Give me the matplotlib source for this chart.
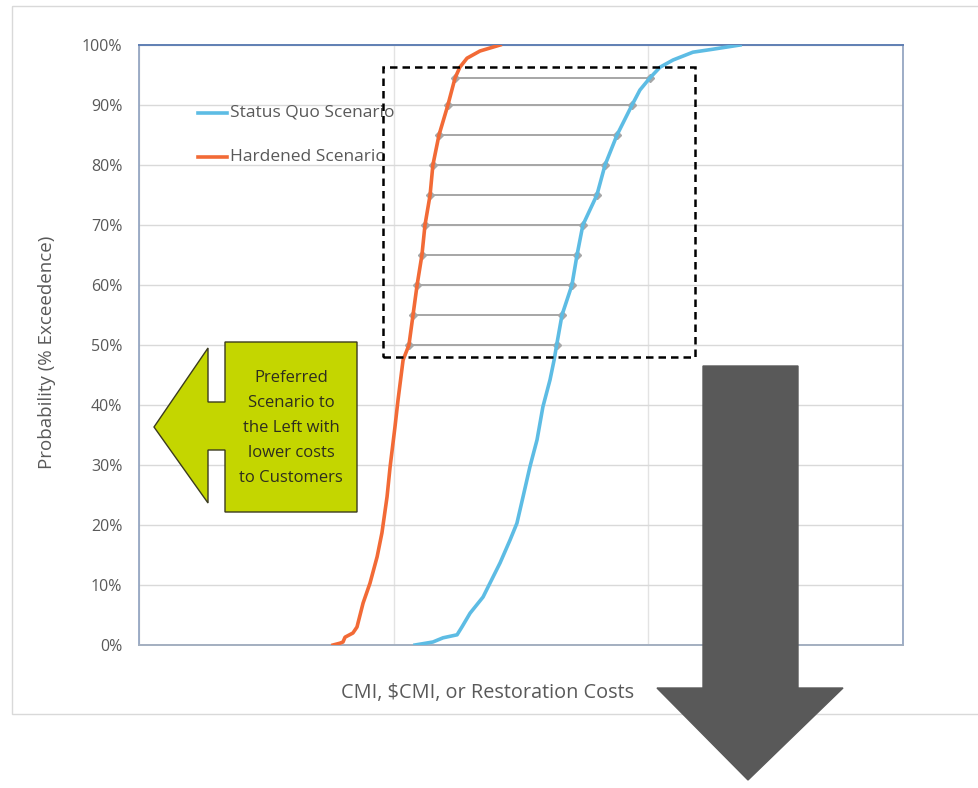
import matplotlib
matplotlib.use("Agg")
import matplotlib.pyplot as plt
from matplotlib.patches import Polygon, Rectangle
from matplotlib.ticker import FuncFormatter

# Exceedance curves: cost (relative units) vs. probability (%)
status_quo_cost = [1.084, 1.154, 1.194, 1.249, 1.268, 1.300, 1.351, 1.378, 1.418, 1.457,
                   1.484, 1.508, 1.535, 1.563, 1.586, 1.614, 1.630, 1.640, 1.661, 1.700,
                   1.720, 1.743, 1.798, 1.830, 1.877, 1.936, 1.967, 2.006, 2.046, 2.097,
                   2.175, 2.254, 2.360]
status_quo_prob = [0.0, 0.5, 1.2, 1.7, 3.0, 5.3, 8.0, 10.3, 13.7, 17.5,
                   20.3, 24.7, 29.7, 34.2, 39.7, 44.2, 47.5, 50.0, 55.0, 60.0,
                   65.0, 70.0, 75.0, 80.0, 85.0, 90.0, 92.5, 94.5, 96.3, 97.5,
                   98.8, 99.3, 100.0]

hardened_cost = [0.762, 0.789, 0.801, 0.809, 0.840, 0.856, 0.880, 0.907, 0.935, 0.954,
                 0.974, 0.986, 1.005, 1.017, 1.037, 1.060, 1.076, 1.092, 1.111, 1.123,
                 1.143, 1.154, 1.178, 1.213, 1.241, 1.260, 1.288, 1.339, 1.418]
hardened_prob = [0.0, 0.3, 0.5, 1.3, 2.0, 3.0, 7.0, 10.3, 14.7, 18.7,
                 24.7, 29.7, 36.3, 40.8, 47.5, 50.0, 55.0, 60.0, 65.0, 70.0,
                 75.0, 80.0, 85.0, 90.0, 94.5, 96.3, 97.8, 99.0, 100.0]

# Cost gap between scenarios at selected probability levels
gap_levels = [50, 55, 60, 65, 70, 75, 80, 85, 90, 94.5]
gap_hardened = [1.060, 1.076, 1.092, 1.111, 1.123, 1.143, 1.154, 1.178, 1.213, 1.241]
gap_status_quo = [1.640, 1.661, 1.700, 1.720, 1.743, 1.798, 1.830, 1.877, 1.936, 2.006]

y_ticks = [0, 10, 20, 30, 40, 50, 60, 70, 80, 90, 100]
series_names = ["Status Quo Scenario", "Hardened Scenario"]
callout_lines = ["Preferred", "Scenario to", "the Left with", "lower costs", "to Customers"]

BLUE = "#5DBCE4"
ORANGE = "#F26A36"
TXT = "#595959"
FONT = ["Open Sans", "DejaVu Sans"]

W, H = 979, 788
fig = plt.figure(figsize=(W / 100, H / 100), dpi=100)
fig.patch.set_facecolor("white")

ax = fig.add_axes([139 / W, 1 - 645 / H, (903 - 139) / W, (645 - 45) / H])
ax.set_xlim(0, 3)
ax.set_ylim(0, 100)
ax.set_xticks([0, 1, 2, 3])
ax.set_yticks(y_ticks)
ax.yaxis.set_major_formatter(FuncFormatter(lambda v, _: f"{v:.0f}%"))
ax.tick_params(axis="x", length=0, labelbottom=False)
ax.tick_params(axis="y", length=0, pad=12, labelcolor=TXT, labelsize=11.5)
for lab in ax.get_yticklabels():
    lab.set_family(FONT)
ax.grid(axis="y", color="#D9D9D9", linewidth=1.0)
ax.grid(axis="x", color="#E3E3E3", linewidth=1.0)
ax.set_axisbelow(True)
for side in ["left", "right"]:
    ax.spines[side].set_color("#8DA0BE")
    ax.spines[side].set_linewidth(1.2)
ax.spines["top"].set_color("#5F7FB3")
ax.spines["top"].set_linewidth(1.4)
ax.spines["bottom"].set_color("#A3AFC0")
ax.spines["bottom"].set_linewidth(1.4)

ax.set_ylabel("Probability (% Exceedence)", color=TXT, fontsize=13.5, family=FONT)
ax.yaxis.set_label_coords((56 - 139) / 764, (645 - 352) / 600)
ax.set_xlabel("CMI, $CMI, or Restoration Costs", color=TXT, fontsize=14.3, family=FONT)
ax.xaxis.set_label_coords((488 - 139) / 764, (645 - 683) / 600)

# Gap arrows between the two curves
for lvl, x0, x1 in zip(gap_levels, gap_hardened, gap_status_quo):
    ax.plot([x0, x1], [lvl, lvl], color="#A6A6A6", linewidth=1.4, zorder=2,
            marker="D", markersize=4, markerfacecolor="#A6A6A6", markeredgecolor="#A6A6A6")

ax.plot(status_quo_cost, status_quo_prob, color=BLUE, linewidth=2.6, zorder=3,
        solid_joinstyle="round")
ax.plot(hardened_cost, hardened_prob, color=ORANGE, linewidth=2.6, zorder=3,
        solid_joinstyle="round")

# Dashed region of interest
ax.add_patch(Rectangle((0.958, 48.0), 2.183 - 0.958, 96.3 - 48.0, fill=False,
                       edgecolor="black", linestyle=(0, (3, 2)), linewidth=1.8, zorder=4))

# Legend drawn inside the plot area
for name, color, ly in zip(series_names, [BLUE, ORANGE], [88.7, 81.3]):
    ax.plot([0.232, 0.346], [ly, ly], color=color, linewidth=2.6, zorder=3)
    ax.text(0.358, ly, name, color=TXT, fontsize=12.5, family=FONT, va="center", ha="left", zorder=3)

# Overlay in pixel space for the callout shapes and the outer frame
ov = fig.add_axes([0, 0, 1, 1], zorder=5)
ov.set_xlim(0, W)
ov.set_ylim(H, 0)
ov.axis("off")
ov.patch.set_alpha(0)

ov.add_patch(Rectangle((12, 6), W + 10, 708, fill=False, edgecolor="#D9D9D9", linewidth=1.0))

callout = [(225, 342), (357, 342), (357, 512), (225, 512), (225, 450), (208, 450),
           (208, 503), (154, 427), (208, 348), (208, 402), (225, 402)]
ov.add_patch(Polygon(callout, closed=True, facecolor="#C4D600", edgecolor="#3B3B1E", linewidth=1.0))
for i, line in enumerate(callout_lines):
    ov.text(291, 378 + 25 * i, line, ha="center", va="center", fontsize=12,
            color="#2E2E1E", family=FONT)

down_arrow = [(703, 366), (798, 366), (798, 688), (843, 688), (748, 780), (657, 688), (703, 688)]
ov.add_patch(Polygon(down_arrow, closed=True, facecolor="#595959", edgecolor="#595959", linewidth=1.0))

fig.savefig("out.png", dpi=100, facecolor="white")
